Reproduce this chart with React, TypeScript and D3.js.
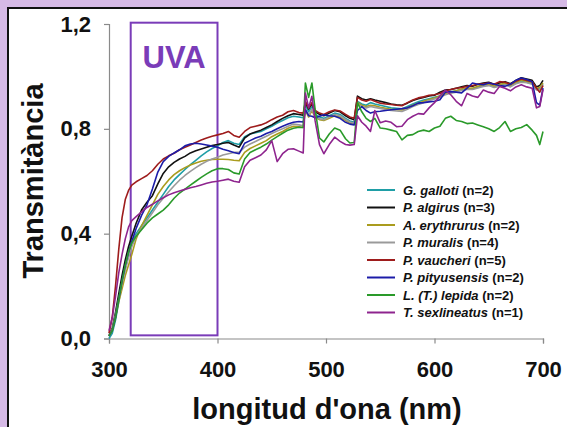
import React, { useRef, useEffect } from 'react';
import * as d3 from 'd3';

// wavelength grid (nm), shared by every series
const wavelengths = [
  300, 303, 306, 309, 312, 315, 318, 321,
  325, 330, 335, 340, 345, 350, 355, 360, 365, 370, 375, 380, 385, 390, 395,
  400, 405, 410, 415, 420, 425, 430, 435, 440, 445, 450, 455, 460, 465, 470, 475,
  479, 481, 484, 487, 490, 494, 498, 503, 508, 513, 518, 522, 526, 529, 533, 537, 541, 545,
  550, 555, 560, 565, 570, 575, 580, 585, 590, 595, 600,
  605, 610, 615, 620, 625, 630, 635, 640, 645, 650, 655, 660, 665, 670, 675, 680, 685, 690, 694, 697, 700,
];

const galloti = [
  0.0, 0.02, 0.07, 0.14, 0.21, 0.27, 0.32, 0.36,
  0.40, 0.43, 0.46, 0.49, 0.52, 0.55, 0.58, 0.605, 0.625, 0.645, 0.663, 0.68, 0.697, 0.712, 0.725,
  0.735, 0.748, 0.755, 0.745, 0.74, 0.77, 0.78, 0.785, 0.79, 0.80, 0.81, 0.822, 0.832, 0.842, 0.848, 0.845,
  0.842, 0.89, 0.865, 0.885, 0.855, 0.845, 0.84, 0.85, 0.86, 0.855, 0.84, 0.83, 0.825, 0.905, 0.895, 0.89, 0.90, 0.895,
  0.89, 0.885, 0.88, 0.878, 0.876, 0.885, 0.895, 0.903, 0.91, 0.915, 0.92,
  0.925, 0.935, 0.94, 0.945, 0.95, 0.955, 0.952, 0.96, 0.965, 0.968, 0.96, 0.965, 0.97, 0.962, 0.975, 0.98, 0.978, 0.972, 0.95, 0.955, 0.97,
];

const algirus = [
  0.01, 0.04, 0.10, 0.17, 0.24, 0.30, 0.35, 0.39,
  0.44, 0.49, 0.52, 0.545, 0.59, 0.63, 0.655, 0.672, 0.685, 0.695, 0.708, 0.716, 0.723, 0.73, 0.736,
  0.74, 0.745, 0.748, 0.738, 0.73, 0.765, 0.78, 0.788, 0.795, 0.805, 0.815, 0.828, 0.84, 0.85, 0.858, 0.855,
  0.852, 0.90, 0.875, 0.895, 0.865, 0.855, 0.85, 0.86, 0.87, 0.865, 0.85, 0.84, 0.835, 0.925, 0.915, 0.91, 0.915, 0.91,
  0.905, 0.90, 0.895, 0.892, 0.89, 0.898, 0.908, 0.915, 0.92, 0.925, 0.928,
  0.94, 0.948, 0.95, 0.955, 0.96, 0.965, 0.962, 0.97, 0.975, 0.978, 0.97, 0.975, 0.98, 0.972, 0.985, 0.995, 0.99, 0.985, 0.96, 0.965, 0.985,
];

const erythrurus = [
  0.01, 0.03, 0.08, 0.14, 0.19, 0.24, 0.28, 0.32,
  0.38, 0.43, 0.47, 0.51, 0.55, 0.58, 0.605, 0.625, 0.64, 0.652, 0.662, 0.67, 0.676, 0.68, 0.683,
  0.684, 0.684, 0.683, 0.68, 0.678, 0.71, 0.725, 0.735, 0.745, 0.755, 0.77, 0.78, 0.79, 0.802, 0.81, 0.808,
  0.805, 0.87, 0.845, 0.87, 0.845, 0.835, 0.832, 0.84, 0.85, 0.845, 0.832, 0.822, 0.818, 0.90, 0.89, 0.885, 0.89, 0.888,
  0.882, 0.878, 0.875, 0.873, 0.872, 0.88, 0.89, 0.898, 0.905, 0.912, 0.918,
  0.925, 0.935, 0.94, 0.945, 0.952, 0.956, 0.955, 0.962, 0.968, 0.97, 0.963, 0.968, 0.975, 0.966, 0.978, 0.985, 0.982, 0.975, 0.955, 0.958, 0.975,
];

const muralis = [
  0.01, 0.035, 0.09, 0.15, 0.21, 0.26, 0.31, 0.35,
  0.39, 0.42, 0.45, 0.48, 0.51, 0.535, 0.56, 0.583, 0.604, 0.622, 0.638, 0.652, 0.665, 0.676, 0.685,
  0.692, 0.70, 0.705, 0.71, 0.71, 0.73, 0.742, 0.752, 0.762, 0.772, 0.782, 0.792, 0.80, 0.81, 0.818, 0.815,
  0.812, 0.875, 0.85, 0.875, 0.848, 0.838, 0.835, 0.845, 0.855, 0.85, 0.836, 0.826, 0.82, 0.895, 0.885, 0.88, 0.885, 0.882,
  0.878, 0.874, 0.87, 0.868, 0.866, 0.875, 0.885, 0.893, 0.90, 0.908, 0.914,
  0.92, 0.93, 0.936, 0.94, 0.946, 0.95, 0.95, 0.956, 0.962, 0.965, 0.958, 0.963, 0.968, 0.96, 0.972, 0.978, 0.976, 0.97, 0.948, 0.95, 0.968,
];

const vaucheri = [
  0.02, 0.08, 0.20, 0.34, 0.46, 0.53, 0.565, 0.585,
  0.598, 0.61, 0.622, 0.64, 0.665, 0.685, 0.697, 0.707, 0.72, 0.73, 0.738, 0.748, 0.757, 0.765, 0.772,
  0.777, 0.782, 0.79, 0.775, 0.768, 0.79, 0.805, 0.81, 0.815, 0.823, 0.835, 0.845, 0.852, 0.865, 0.87, 0.862,
  0.86, 0.905, 0.88, 0.90, 0.87, 0.86, 0.855, 0.865, 0.872, 0.868, 0.855, 0.845, 0.84, 0.92, 0.91, 0.905, 0.912, 0.905,
  0.898, 0.895, 0.893, 0.89, 0.888, 0.90, 0.91, 0.918, 0.922, 0.928, 0.93,
  0.935, 0.945, 0.95, 0.955, 0.958, 0.962, 0.965, 0.97, 0.972, 0.975, 0.97, 0.98, 0.978, 0.97, 0.982, 0.99, 0.985, 0.98, 0.955, 0.94, 0.965,
];

const pityusensis = [
  0.01, 0.03, 0.08, 0.15, 0.22, 0.28, 0.33, 0.37,
  0.42, 0.47, 0.51, 0.57, 0.635, 0.675, 0.695, 0.708, 0.72, 0.735, 0.742, 0.745, 0.742, 0.738, 0.734,
  0.73, 0.722, 0.716, 0.71, 0.705, 0.745, 0.755, 0.765, 0.772, 0.782, 0.79, 0.80, 0.81, 0.818, 0.825, 0.828,
  0.826, 0.873, 0.85, 0.848, 0.842, 0.848, 0.854, 0.85, 0.848, 0.84, 0.825, 0.818, 0.815, 0.87, 0.885, 0.87, 0.86, 0.865,
  0.867, 0.87, 0.873, 0.875, 0.877, 0.88, 0.888, 0.898, 0.90, 0.903, 0.905,
  0.911, 0.94, 0.942, 0.94, 0.937, 0.955, 0.975, 0.97, 0.968, 0.975, 0.97, 0.965, 0.962, 0.97, 0.985, 0.994, 0.988, 0.98, 0.90, 0.89, 0.955,
];

const lepida = [
  0.01, 0.03, 0.08, 0.15, 0.22, 0.28, 0.33, 0.365,
  0.39, 0.415, 0.44, 0.46, 0.475, 0.49, 0.51, 0.535, 0.555, 0.57, 0.585, 0.60, 0.615, 0.628, 0.64,
  0.648, 0.648, 0.645, 0.632, 0.628, 0.685, 0.71, 0.72, 0.73, 0.742, 0.757, 0.77, 0.783, 0.795, 0.802, 0.806,
  0.805, 0.975, 0.92, 0.975, 0.873, 0.765, 0.75, 0.78, 0.803, 0.795, 0.762, 0.746, 0.748, 0.90, 0.865, 0.84, 0.828, 0.84,
  0.803, 0.80, 0.795, 0.79, 0.758, 0.775, 0.778, 0.79, 0.795, 0.79, 0.803,
  0.81, 0.84, 0.848, 0.832, 0.828, 0.82, 0.822, 0.815, 0.808, 0.80, 0.79, 0.805, 0.828, 0.79, 0.80, 0.805, 0.816, 0.795, 0.775, 0.74, 0.79,
];

const sexlineatus = [
  0.03, 0.08, 0.16, 0.25, 0.32, 0.38, 0.425, 0.45,
  0.465, 0.483, 0.50, 0.512, 0.525, 0.537, 0.548, 0.556, 0.563, 0.569, 0.575, 0.58, 0.586, 0.592, 0.597,
  0.60, 0.604, 0.608, 0.60, 0.596, 0.655, 0.68, 0.69, 0.70, 0.72, 0.755, 0.675, 0.705, 0.722, 0.724, 0.715,
  0.708, 0.937, 0.88, 0.924, 0.83, 0.74, 0.705, 0.74, 0.768, 0.752, 0.74, 0.738, 0.74, 0.85, 0.825, 0.81, 0.79, 0.87,
  0.823, 0.83, 0.825, 0.808, 0.81, 0.835, 0.848, 0.858, 0.856, 0.88, 0.90,
  0.925, 0.948, 0.93, 0.905, 0.888, 0.935, 0.925, 0.92, 0.948, 0.94, 0.935, 0.962, 0.955, 0.945, 0.96, 0.968, 0.96, 0.955, 0.88, 0.885, 0.95,
];

const speciesNames = [
  'G. galloti', 'P. algirus', 'A. erythrurus', 'P. muralis',
  'P. vaucheri', 'P. pityusensis', 'L. (T.) lepida', 'T. sexlineatus',
];
const sampleSizes = [2, 3, 2, 4, 5, 2, 2, 1];
const seriesValues = [galloti, algirus, erythrurus, muralis, vaucheri, pityusensis, lepida, sexlineatus];
const seriesColors = ['#1f9ea6', '#111111', '#aa9c1e', '#9a9a9a', '#9e1c1c', '#1c1ca8', '#2a9a2a', '#8e248e'];

const xTicks = [300, 400, 500, 600, 700];
const yTicks = [0, 0.4, 0.8, 1.2];
const uvaBand = [320, 400];

const FONT = '"Liberation Sans", Arial, Helvetica, sans-serif';

const App: React.FC = () => {
  const svgRef = useRef<SVGSVGElement | null>(null);

  useEffect(() => {
    document.body.style.margin = '0';
    if (!svgRef.current) return;

    const svg = d3.select(svgRef.current);
    svg.selectAll('*').remove();

    // lavender page + white panel with dark border
    svg.append('rect').attr('width', 567).attr('height', 427).attr('fill', '#d6bae6');
    svg.append('rect')
      .attr('x', 8).attr('y', 8)
      .attr('width', 600).attr('height', 500)
      .attr('fill', '#ffffff')
      .attr('stroke', '#111')
      .attr('stroke-width', 2);

    const x = d3.scaleLinear().domain([300, 700]).range([109, 543]);
    const y = d3.scaleLinear().domain([0, 1.2]).range([338.5, 24]);

    const fmt = (d: number) => d3.format('.1f')(d).replace('.', ',');

    const xAxisG = svg.append('g')
      .attr('transform', `translate(0, ${y(0)})`)
      .call(d3.axisBottom(x).tickValues(xTicks).tickSizeOuter(0).tickSize(5).tickPadding(18).tickFormat(d3.format('d') as any));
    const yAxisG = svg.append('g')
      .attr('transform', `translate(${x(300)}, 0)`)
      .call(d3.axisLeft(y).tickValues(yTicks).tickSizeOuter(0).tickSize(5).tickPadding(13).tickFormat(fmt as any));

    [xAxisG, yAxisG].forEach(g => {
      g.select('.domain').attr('stroke', '#8a8a8a').attr('stroke-width', 1.2);
      g.selectAll('.tick line').attr('stroke', '#8a8a8a').attr('stroke-width', 1.2);
      g.selectAll('.tick text')
        .attr('fill', '#111')
        .style('font-family', FONT)
        .style('font-weight', 'bold')
        .style('font-size', '22px');
    });

    // UVA band
    svg.append('rect')
      .attr('x', x(uvaBand[0]))
      .attr('y', y(1.205))
      .attr('width', x(uvaBand[1]) - x(uvaBand[0]))
      .attr('height', y(0.012) - y(1.205))
      .attr('fill', 'none')
      .attr('stroke', '#7a3cb8')
      .attr('stroke-width', 2);
    svg.append('text')
      .attr('x', (x(uvaBand[0]) + x(uvaBand[1])) / 2)
      .attr('y', 68)
      .attr('text-anchor', 'middle')
      .attr('fill', '#7a3cb8')
      .style('font-family', FONT)
      .style('font-weight', 'bold')
      .style('font-size', '31px')
      .text('UVA');

    const line = d3.line<number>()
      .x((_d, i) => x(wavelengths[i]))
      .y(d => y(d));

    seriesValues.forEach((vals, i) => {
      svg.append('path')
        .datum(vals)
        .attr('d', line)
        .attr('fill', 'none')
        .attr('stroke', seriesColors[i])
        .attr('stroke-width', 1.6)
        .attr('stroke-linejoin', 'round');
    });

    // legend
    const legend = svg.append('g').attr('transform', 'translate(367, 190)');
    speciesNames.forEach((name, i) => {
      const row = legend.append('g').attr('transform', `translate(0, ${i * 17.5})`);
      row.append('line')
        .attr('x1', 0).attr('x2', 28)
        .attr('stroke', seriesColors[i])
        .attr('stroke-width', 2);
      const t = row.append('text')
        .attr('x', 36)
        .attr('y', 4.8)
        .attr('fill', '#111')
        .style('font-family', FONT)
        .style('font-weight', 'bold')
        .style('font-size', '13px');
      t.append('tspan').style('font-style', 'italic').text(name);
      t.append('tspan').text(` (n=${sampleSizes[i]})`);
    });

    // axis titles
    svg.append('text')
      .attr('transform', 'translate(43, 181) rotate(-90)')
      .attr('text-anchor', 'middle')
      .attr('fill', '#111')
      .style('font-family', FONT)
      .style('font-weight', 'bold')
      .style('font-size', '29px')
      .text('Transmitància');
    svg.append('text')
      .attr('x', 327)
      .attr('y', 419)
      .attr('text-anchor', 'middle')
      .attr('fill', '#111')
      .style('font-family', FONT)
      .style('font-weight', 'bold')
      .style('font-size', '29px')
      .text("longitud d'ona (nm)");
  }, []);

  return <svg ref={svgRef} width={567} height={427} style={{ display: 'block' }} />;
};

export default App;
